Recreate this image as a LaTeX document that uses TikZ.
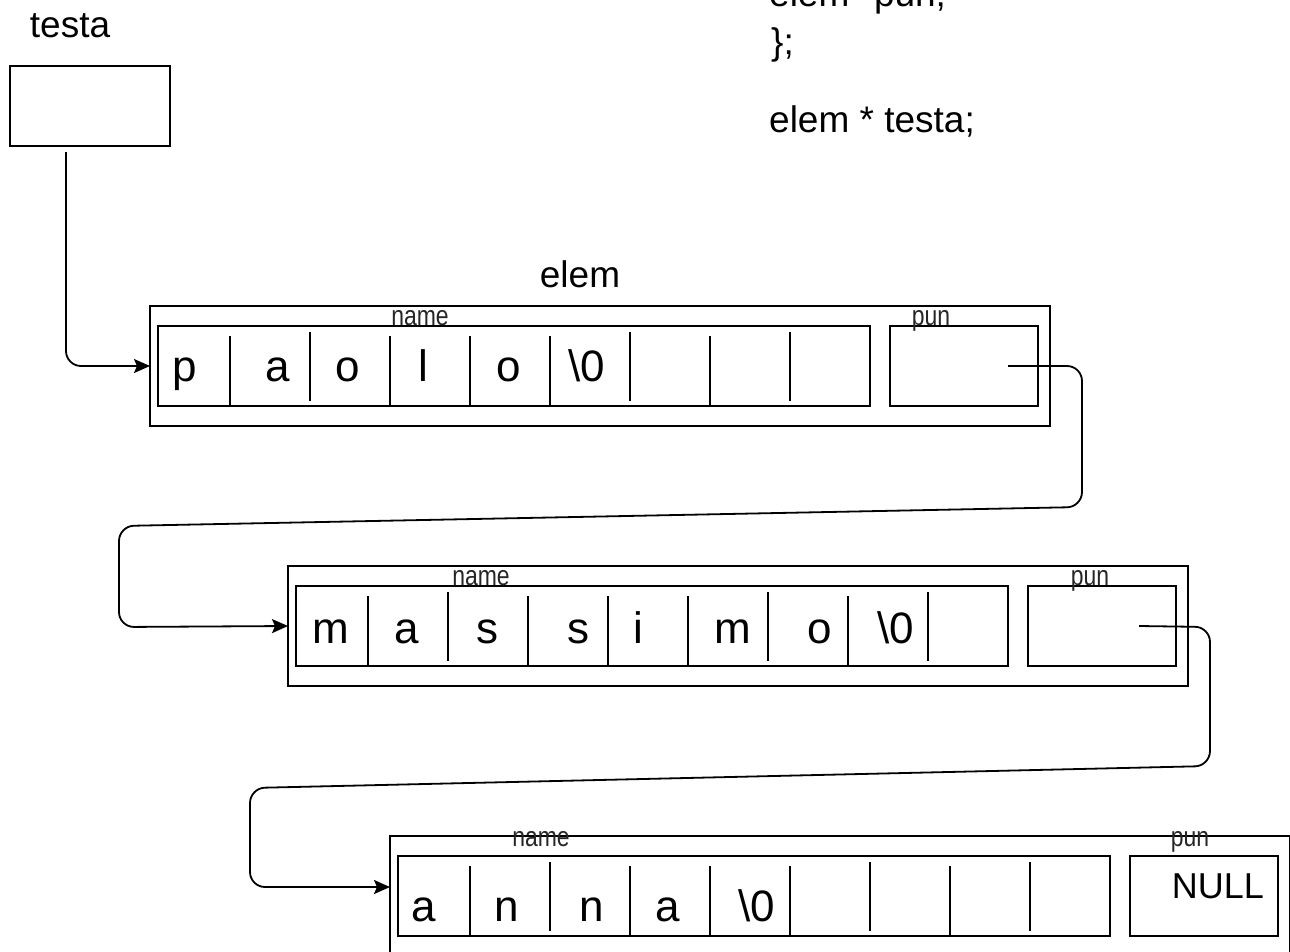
\documentclass[tikz,border=0pt]{standalone}
\usepackage{fontspec}
\setmainfont{Liberation Sans}
\newfontfamily\tagfont{Liberation Sans}[FakeStretch=0.82]
\usetikzlibrary{arrows.meta}

\begin{document}
\begin{tikzpicture}[x=1pt,y=-1pt,
  box/.style={draw,line width=1.8pt,anchor=north west,inner sep=0pt,outer sep=0pt},
  sep/.style={line width=1.8pt},
  link/.style={line width=1.8pt,rounded corners=15pt,-{Stealth[length=16pt,width=14pt,inset=3pt]}},
  big/.style={font=\fontsize{37}{44}\selectfont,inner sep=0pt,anchor=base},
  letter/.style={font=\fontsize{44}{50}\selectfont,inner sep=0pt,anchor=base},
  tag/.style={font=\tagfont\fontsize{28}{30}\selectfont,text=black!85,inner sep=0pt,anchor=base}]
   \useasboundingbox (0,0) rectangle (1290,951);
   \clip (0,0) rectangle (1290,951);
   \node[big,anchor=base west] (code1) at (769,6) {elem *pun;};
   \node[big,anchor=base west] (code2) at (771,54) {\};};
   \node[big,anchor=base west] (code3) at (769,132) {elem * testa;};
	 \node[big] (lbltesta) at (70,37) {testa};
	 \node[box,minimum width=160pt,minimum height=80pt] (testa) at (10,66) {};
	 \node[big] (lblelem) at (580,287) {elem};
	 \node[box,minimum width=900pt,minimum height=120pt] (elemA) at (150,306) {};
	 \node[box,minimum width=712pt,minimum height=80pt] (nameA) at (158,326) {};
	 \node[box,minimum width=148pt,minimum height=80pt] (punA) at (890,326) {};
	 \node[tag] (tnameA) at (420,325) {name};
	 \node[tag] (tpunA) at (931,325) {pun};
	  \node[box,minimum width=900pt,minimum height=120pt] (elemB) at (288,566) {};
	  \node[box,minimum width=712pt,minimum height=80pt] (nameB) at (296,586) {};
	  \node[box,minimum width=148pt,minimum height=80pt] (punB) at (1028,586) {};
	  \node[tag] (tnameB) at (481,585) {name};
	  \node[tag] (tpunB) at (1090,585) {pun};
	   \node[box,minimum width=900pt,minimum height=120pt] (elemC) at (390,836) {};
	   \node[box,minimum width=712pt,minimum height=80pt] (nameC) at (398,856) {};
	   \node[box,minimum width=148pt,minimum height=80pt] (punC) at (1130,856) {};
	   \node[tag] (tnameC) at (541,846) {name};
	   \node[tag] (tpunC) at (1190,846) {pun};
	   \node[big,font=\fontsize{36}{40}\selectfont] (null) at (1218,898) {NULL};
   \foreach \r in {A,B,C}{
     \foreach \d in {72,232,312,392,552}
       \draw[sep] ([xshift=\d pt,yshift=-10pt]name\r.north west) -- ([xshift=\d pt]name\r.south west);
     \foreach \d in {152,472,632}
       \draw[sep] ([xshift=\d pt,yshift=-6pt]name\r.north west) -- ([xshift=\d pt,yshift=5pt]name\r.south west);
   }
   \foreach \ch/\x [count=\i] in {p/185,a/278,o/348,l/423,o/509,{\textbackslash 0}/587}
     \node[letter] (A\i) at (\x,381) {\ch};
   \foreach \ch/\x [count=\i] in {m/331,a/407,s/487,s/578,i/638,m/733,o/820,{\textbackslash 0}/896}
     \node[letter] (B\i) at (\x,643) {\ch};
   \foreach \ch/\x [count=\i] in {a/424,n/507,n/592,a/668,{\textbackslash 0}/757}
     \node[letter] (C\i) at (\x,921) {\ch};
	 \draw[link] ([xshift=-24pt,yshift=-6pt]testa.south) |- (elemA.west);
	 \draw[link] ([xshift=44pt]punA.center) -- (1082,366) -- (1082,507) -- (119,526) -- (119,627) -- (elemB.west);
	 \draw[link] ([xshift=37pt]punB.center) -- (1210,627) -- (1210,766) -- (250,788) -- (250,887) -- ([yshift=9pt]elemC.west);
   \end{tikzpicture}
\end{document}
